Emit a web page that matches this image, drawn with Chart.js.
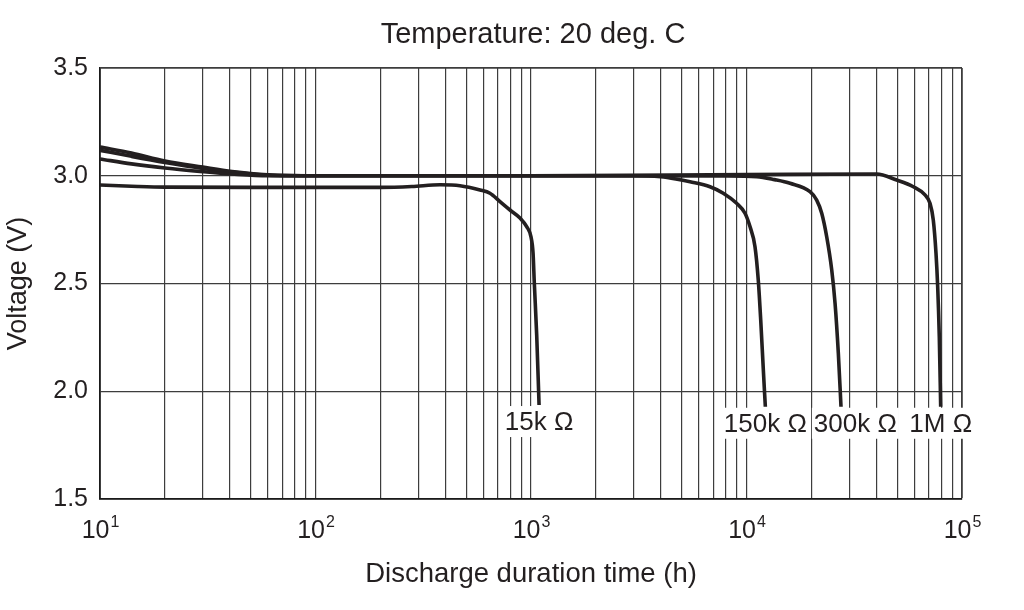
<!DOCTYPE html>
<html>
<head>
<meta charset="utf-8">
<title>Discharge characteristics</title>
<script src="https://cdn.jsdelivr.net/npm/chart.js@4.4.1/dist/chart.umd.min.js"></script>
<style>
    html, body { margin: 0; padding: 0; background: #fff; }
    #wrap { width: 1024px; height: 610px; }
</style>
</head>
<body>
<div id="wrap"><canvas id="discharge-chart" width="1024" height="610"></canvas></div>
<script>
// Values (hours, volts)
const hours15k = [10, 15, 20, 50, 100, 200, 280, 378, 468, 580, 645, 718, 799, 889, 958, 1000, 1022, 1036, 1063, 1090];
const volts15k = [2.957, 2.95, 2.947, 2.946, 2.946, 2.946, 2.95, 2.958, 2.954, 2.934, 2.919, 2.88, 2.841, 2.804, 2.762, 2.716, 2.642, 2.502, 2.258, 1.936];

const hours150k = [10, 14, 20, 30, 41, 60, 100, 1000, 3000, 4000, 4700, 5470, 6770, 7800, 9000, 9840, 10380, 10950, 11340, 11640, 11970, 12230];
const volts150k = [3.078, 3.055, 3.036, 3.019, 3.008, 3.0, 3.0, 3.0, 3.0, 2.995, 2.985, 2.972, 2.949, 2.919, 2.872, 2.826, 2.764, 2.671, 2.516, 2.331, 2.099, 1.928];

const hours300k = [10, 14, 20, 30, 41, 60, 100, 1000, 8000, 11150, 13500, 15920, 19710, 21170, 22340, 23560, 24860, 25760, 26680, 27450];
const volts300k = [3.118, 3.09, 3.062, 3.034, 3.017, 3.003, 3.0, 3.0, 2.999, 2.996, 2.982, 2.965, 2.926, 2.887, 2.826, 2.717, 2.563, 2.408, 2.176, 1.928];

const hours1M = [10, 14, 20, 30, 41, 60, 100, 1000, 10000, 40200, 49770, 59430, 67340, 71030, 73580, 75750, 77120, 78460, 79640];
const volts1M = [3.133, 3.105, 3.068, 3.04, 3.02, 3.005, 3.0, 3.0, 3.005, 3.008, 2.98, 2.949, 2.911, 2.872, 2.795, 2.64, 2.485, 2.253, 1.928];

const loadNames = ['15k Ω', '150k Ω', '300k Ω', '1M Ω'];

// Tick labels
const yTickValues = [1.5, 2.0, 2.5, 3.0, 3.5];
const xDecades = [10, 100, 1000, 10000, 100000];
const xExponents = ['1', '2', '3', '4', '5'];
const xMultiples = [1, 2, 3, 4, 5, 6, 7, 8, 9];

const ink = '#231f20';
const gridColor = '#3d3d3d';
const fontFamily = '"Liberation Sans", Arial, Helvetica, sans-serif';

function toPoints(xs, ys) {
    return xs.map(function(x, i) { return { x: x, y: ys[i] }; });
}

// grid lines at 1..9 x each decade, plus the top decade
const xGridValues = [];
xDecades.slice(0, -1).forEach(function(d) {
    xMultiples.forEach(function(m) { xGridValues.push(d * m); });
});
xGridValues.push(xDecades[xDecades.length - 1]);

const series = [
    { name: loadNames[0], points: toPoints(hours15k, volts15k) },
    { name: loadNames[1], points: toPoints(hours150k, volts150k) },
    { name: loadNames[2], points: toPoints(hours300k, volts300k) },
    { name: loadNames[3], points: toPoints(hours1M, volts1M) }
];

// Title, power-of-ten tick labels and the load labels under each curve end
const annotate = {
    id: 'annotate',
    afterDraw: function(chart) {
        const ctx = chart.ctx;
        const area = chart.chartArea;
        const xs = chart.scales.x;
        const ys = chart.scales.y;
        ctx.save();
        ctx.fillStyle = ink;

        // title
        ctx.font = '29px ' + fontFamily;
        ctx.textAlign = 'center';
        ctx.textBaseline = 'alphabetic';
        ctx.fillText('Temperature: 20 deg. C', (area.left + area.right) / 2 + 2, 43);

        // x tick labels 10^n
        ctx.textAlign = 'left';
        xDecades.forEach(function(v, i) {
            const px = xs.getPixelForValue(v);
            ctx.font = '25px ' + fontFamily;
            const wBase = ctx.measureText('10').width;
            ctx.font = '16px ' + fontFamily;
            const wExp = ctx.measureText(xExponents[i]).width;
            const left = px - (wBase + wExp) / 2;
            ctx.font = '25px ' + fontFamily;
            ctx.fillText('10', left, area.bottom + 39);
            ctx.font = '16px ' + fontFamily;
            ctx.fillText(xExponents[i], left + wBase + 1, area.bottom + 28);
        });

        // load labels, pushed right when they would collide
        ctx.font = '26px ' + fontFamily;
        let prevRight = -Infinity;
        series.forEach(function(s) {
            const last = s.points[s.points.length - 1];
            const px = xs.getPixelForValue(last.x);
            const py = ys.getPixelForValue(last.y);
            const w = ctx.measureText(s.name).width;
            let left = px - w / 2;
            if (left < prevRight + 7) left = prevRight + 7;
            ctx.fillStyle = '#fff';
            ctx.fillRect(left - 2, py + 1, w + 4, 31);
            ctx.fillStyle = ink;
            ctx.textAlign = 'left';
            ctx.fillText(s.name, left, py + 25);
            prevRight = left + w;
        });
        ctx.restore();
    }
};

const ctx = document.getElementById('discharge-chart').getContext('2d');
const chart = new Chart(ctx, {
    type: 'line',
    data: {
        datasets: series.map(function(s) {
            return {
                label: s.name,
                data: s.points,
                borderColor: ink,
                borderWidth: 3.6,
                pointRadius: 0,
                fill: false,
                cubicInterpolationMode: 'monotone'
            };
        })
    },
    options: {
        responsive: false,
        animation: false,
        layout: { padding: { top: 68, right: 62, left: 0, bottom: 0 } },
        plugins: {
            legend: { display: false },
            tooltip: { enabled: false },
            title: { display: false }
        },
        scales: {
            x: {
                type: 'logarithmic',
                min: 10,
                max: 100000,
                afterBuildTicks: function(scale) {
                    scale.ticks = xGridValues.map(function(v) { return { value: v }; });
                },
                afterFit: function(scale) { scale.height = 111; },
                ticks: { autoSkip: false, maxRotation: 0, callback: function() { return ''; } },
                grid: {
                    color: gridColor,
                    lineWidth: function(c) { return c.index === xGridValues.length - 1 ? 1.8 : 1.2; },
                    drawTicks: false
                },
                border: { color: '#1a1a1a', width: 1.8 },
                title: {
                    display: true,
                    text: 'Discharge duration time (h)',
                    color: ink,
                    font: { family: fontFamily, size: 27.5 },
                    padding: { top: 0, bottom: 19 }
                }
            },
            y: {
                min: 1.5,
                max: 3.5,
                afterBuildTicks: function(scale) {
                    scale.ticks = yTickValues.map(function(v) { return { value: v }; });
                },
                afterFit: function(scale) { scale.width = 100; },
                ticks: {
                    padding: 12,
                    color: ink,
                    font: { family: fontFamily, size: 25 },
                    callback: function(v) { return Number(v).toFixed(1); }
                },
                grid: {
                    color: gridColor,
                    lineWidth: function(c) { return c.index === yTickValues.length - 1 ? 1.8 : 1.2; },
                    drawTicks: false
                },
                border: { color: '#1a1a1a', width: 1.8 },
                title: {
                    display: true,
                    text: 'Voltage (V)',
                    color: ink,
                    font: { family: fontFamily, size: 27 },
                    padding: { top: 2, bottom: 0 }
                }
            }
        }
    },
    plugins: [annotate]
});
</script>
</body>
</html>
